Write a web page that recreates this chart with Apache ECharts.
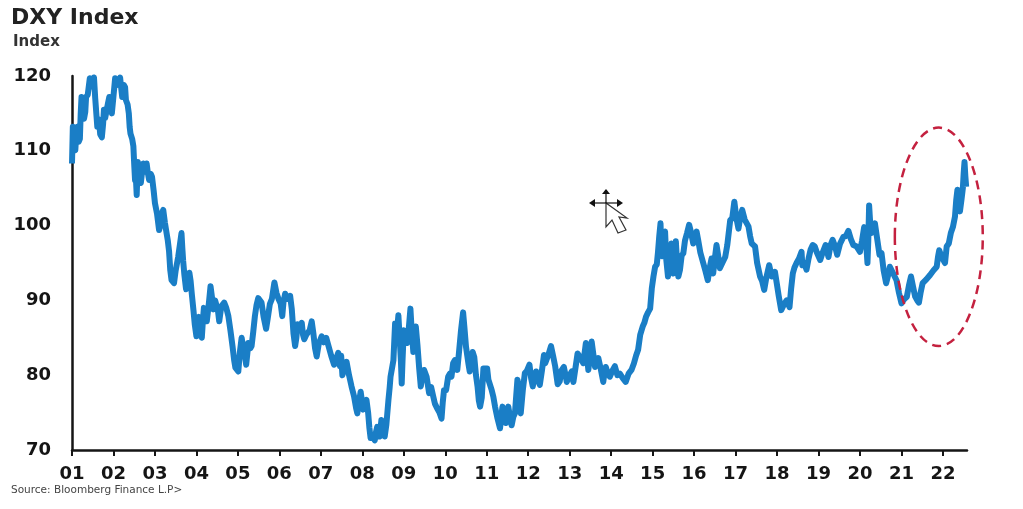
<!DOCTYPE html>
<html>
<head>
<meta charset="utf-8">
<title>DXY Index</title>
<script src="https://cdn.jsdelivr.net/npm/echarts@6/dist/echarts.min.js"></script>
<style>
  html, body { margin: 0; padding: 0; background: #fff; }
  #chart { width: 1023px; height: 509px; }
</style>
</head>
<body>
<div id="chart"></div>
<script>
// years counted from 2000, one line per year
const dates = [
  1.0,1.02,1.05,1.08,1.11,1.13,1.16,1.19,1.21,1.23,1.26,1.29,1.32,1.34,1.38,1.43,1.48,1.53,1.56,1.61,1.65,1.68,1.72,1.75,1.77,1.8,1.84,1.87,1.9,1.93,1.96,
  2.0,2.04,2.09,2.16,2.19,2.21,2.25,2.28,2.3,2.34,2.37,2.39,2.41,2.45,2.48,2.5,2.52,2.54,2.56,2.58,2.59,2.63,2.66,2.69,2.72,2.76,2.8,2.83,2.86,2.9,2.93,2.97,
  3.0,3.05,3.1,3.13,3.16,3.2,3.24,3.28,3.31,3.34,3.37,3.4,3.46,3.5,3.56,3.6,3.64,3.66,3.68,3.71,3.75,3.79,3.83,3.86,3.89,3.93,3.96,
  4.0,4.03,4.06,4.09,4.13,4.16,4.18,4.22,4.25,4.3,4.34,4.38,4.41,4.45,4.49,4.52,4.55,4.6,4.67,4.72,4.77,4.82,4.87,4.91,4.94,
  5.01,5.05,5.09,5.13,5.17,5.2,5.23,5.25,5.3,5.33,5.37,5.41,5.45,5.49,5.53,5.57,5.62,5.68,5.72,5.77,5.82,5.88,5.93,5.98,
  6.03,6.07,6.1,6.14,6.2,6.26,6.3,6.34,6.38,6.41,6.44,6.49,6.54,6.57,6.6,6.65,6.68,6.73,6.78,6.82,6.86,6.9,6.95,
  7.02,7.07,7.13,7.18,7.25,7.32,7.37,7.42,7.46,7.49,7.52,7.57,7.62,7.68,7.74,7.8,7.85,7.88,7.92,7.96,
  8.02,8.06,8.1,8.14,8.17,8.2,8.25,8.3,8.33,8.36,8.42,8.46,8.5,8.54,8.58,8.63,8.66,8.68,8.72,8.75,8.79,8.83,8.87,8.9,8.93,8.95,8.97,
  9.0,9.04,9.08,9.12,9.16,9.19,9.23,9.26,9.29,9.33,9.37,9.41,9.45,9.49,9.55,9.61,9.66,9.7,9.75,9.8,9.86,9.91,9.94,9.97,
  10.02,10.07,10.11,10.15,10.19,10.23,10.29,10.33,10.38,10.43,10.46,10.5,10.53,10.56,10.59,10.62,10.66,10.7,10.74,10.78,10.81,10.84,10.88,10.92,
  11.01,11.04,11.08,11.12,11.16,11.2,11.26,11.32,11.35,11.38,11.42,11.46,11.49,11.52,11.56,11.6,11.64,11.68,11.71,11.74,11.77,11.8,11.82,11.87,11.92,11.97,
  12.03,12.07,12.11,12.15,12.19,12.23,12.28,12.33,12.38,12.41,12.44,12.49,12.55,12.6,12.65,12.71,12.76,12.8,12.86,12.9,12.93,
  13.0,13.05,13.09,13.14,13.19,13.25,13.33,13.36,13.39,13.42,13.45,13.49,13.53,13.57,13.61,13.65,13.69,13.75,13.81,13.84,13.87,13.92,13.97,
  14.03,14.09,14.15,14.21,14.28,14.35,14.42,14.49,14.55,14.6,14.65,14.7,14.76,14.8,14.84,14.89,14.94,14.98,
  15.02,15.06,15.1,15.13,15.16,15.19,15.21,15.23,15.27,15.3,15.33,15.37,15.41,15.45,15.5,15.53,15.56,15.59,15.62,15.66,15.7,15.74,15.78,15.83,15.88,15.93,15.98,
  16.02,16.06,16.1,16.15,16.22,16.27,16.33,16.37,16.42,16.46,16.5,16.54,16.58,16.62,16.68,16.75,16.8,16.87,16.92,16.97,
  17.02,17.07,17.11,17.16,17.22,17.31,17.35,17.39,17.43,17.47,17.52,17.59,17.64,17.69,17.74,17.81,17.87,17.95,17.99,
  18.04,18.1,18.16,18.23,18.3,18.34,18.38,18.42,18.47,18.53,18.59,18.61,18.66,18.71,18.76,18.81,18.86,18.91,18.96,
  19.04,19.1,19.17,19.24,19.29,19.34,19.4,19.45,19.52,19.6,19.66,19.72,19.78,19.84,19.92,
  20.0,20.05,20.1,20.14,20.18,20.2,20.22,20.25,20.27,20.32,20.36,20.41,20.47,20.52,20.57,20.63,20.68,20.72,20.8,20.88,20.94,
  21.0,21.07,21.13,21.18,21.23,21.28,21.33,21.38,21.42,21.46,21.51,21.6,21.69,21.77,21.85,21.88,21.91,21.97,
  22.05,22.09,22.14,22.19,22.24,22.29,22.32,22.35,22.38,22.41,22.45,22.48,22.5,22.52,22.54,22.56
];
const dxy = [
  108.3,113.2,110.4,110.1,112.9,113.2,111.2,111.6,115,117.2,116.6,114.3,115.2,117.2,117.5,119.7,118.6,119.8,117,113.2,114.2,112.2,111.8,113.6,115.5,114.4,114.6,116.4,117.2,115.8,115,
  117.3,119.7,118.8,119.8,118.2,117.2,118.8,118.5,116.8,116.2,115,113.2,112.3,111.6,110.6,108.2,106.1,106.4,104.1,107.4,108.5,106.6,105.7,107.2,108.3,107.2,108.3,107,106.1,106.9,106.5,104.6,
  103,101.6,99.4,100,101.6,102.1,100.4,99,98,96.6,94,92.7,92.3,94,95.8,97.4,99,97,95.3,93.4,91.5,92.4,93.7,92.6,90.8,88.6,86.8,
  85.2,86.6,87.8,86.2,85,87.6,89,88.2,87.2,89.6,91.9,90.2,88.8,90,89.9,88.6,87.2,89.2,89.7,89,87.9,86,83.9,82,81,
  80.5,83.2,85,83.6,82.6,81.4,83,84.3,83.6,83.9,85.8,87.9,89.4,90.3,90.4,89.7,87.8,86.2,87.6,89.5,90.2,92.4,91,90.2,
  89.6,87.9,89.8,90.9,90.2,90.6,88.8,85.6,83.9,85,86.8,86.2,87,85.4,84.8,85.4,85.2,86,87.2,85.6,83.6,82.5,84.2,
  85.2,84.4,85,84,82.6,81.4,82.2,83,81.2,82.6,80,81,81.8,80,78.5,77.2,75.6,74.9,76.4,77.8,
  75.4,76.4,76.7,75,73,71.6,71.8,71.3,72.4,73.1,71.8,74,73,71.8,73.4,76.7,78.4,79.8,80,82,86.9,85.5,88,85,82,78.9,82,
  86,85,84.3,86.2,88.9,86,83.1,85,86.5,84,81,78.5,80,80.7,79.8,77.6,78.4,77.4,76.2,75.6,75,74.2,76.4,78,
  78,79.8,80.2,79.8,81.6,82,80.7,83,86,88.4,86.5,83.8,83.6,81.5,80.5,82,83.1,82.4,80,78.4,76.6,75.8,77,80.9,
  80.9,79.4,79.6,78,77.1,75.8,74.2,72.9,74.4,75.8,74.6,73.6,74.8,75.8,74.4,73.3,74.4,74.9,77.2,79.4,78.6,75.4,74.9,78,80.3,80.6,
  81.4,79.6,78.5,79.8,80.5,79.4,78.7,80.6,82.7,81.6,81.4,82.8,83.9,82.6,81.2,78.8,79.2,80.6,81.1,80,79.1,
  80,80.5,79.1,81,82.9,82.4,81.6,83,84.3,82.4,80.7,82.6,84.5,82.8,81.1,81.6,82.3,80.8,79.1,80.4,81.1,80.2,79.8,
  80.6,81.2,80,80.2,79.6,79.1,80.2,80.7,81.6,82.6,83.4,85.4,86.5,87,87.8,88.4,88.9,91.6,
  93.2,94.5,94.8,96.5,98.6,100.3,97,95.9,98,99.2,95.4,93.2,96,97.6,93.6,96,97.9,95,93.2,94.1,96,96.3,98,99,100.1,99,97.6,
  98.4,99.2,98,96.4,95,94,92.7,94.2,95.6,93.6,95.6,97.4,96,94.3,95,95.8,97.4,100.7,101,103.2,
  101,99.6,101,102.1,100.8,99.9,98.6,97.6,97.6,97.2,95,93.2,92.6,91.4,93,94.7,93.2,93.8,92.4,
  90.6,88.7,89.4,90,89.1,91.6,93.6,94.4,95,95.6,96.5,94.7,95,94.1,95.6,96.8,97.4,97.2,96.4,
  95.4,96.4,97.4,95.8,97.4,98.1,97.2,96.1,97.6,98.5,98.6,99.3,98.2,97.4,97.2,
  96.5,98,99.8,98.4,95,98,102.7,100,99,100,100.3,98.4,96.1,96.3,94,92.3,93.4,94.5,93.6,92.7,91,
  89.6,90.2,90.5,92,93.2,91.8,90.5,90,89.7,91,92.3,92.8,93.4,94,94.5,95.8,96.7,95.8,
  95,97.2,97.6,99,99.8,101.2,103.4,104.8,103,101.9,103.6,105,107,108.5,106.6,105.2
];
const yTicks = [70, 80, 90, 100, 110, 120];
const xTicks = [1,2,3,4,5,6,7,8,9,10,11,12,13,14,15,16,17,18,19,20,21,22];
// dashed circle round the latest move: centre year/value, half width in years, half height in points
const ringCentre = [21.9, 98.5];
const ringHalfSize = [1.06, 14.6];

const ink = '#151515';
const chart = echarts.init(document.getElementById('chart'));

chart.setOption({
  animation: false,
  backgroundColor: '#ffffff',
  title: [
    { text: 'DXY Index', left: 11, top: 7, padding: 0, textStyle: { fontFamily: 'DejaVu Sans', fontSize: 22, fontWeight: 'bold', color: '#222' } },
    { text: 'Index', left: 13, top: 35, padding: 0, textStyle: { fontFamily: 'DejaVu Sans', fontSize: 15, fontWeight: 'bold', color: '#333' } },
    { text: 'Source: Bloomberg Finance L.P>', left: 11, top: 485, padding: 0, textStyle: { fontFamily: 'DejaVu Sans', fontSize: 10.5, fontWeight: 'normal', color: '#444' } }
  ],
  grid: { left: 72, right: 56, top: 76, bottom: 59 },
  xAxis: {
    type: 'value',
    min: 1,
    max: 22.58,
    splitLine: { show: false },
    axisLine: { lineStyle: { color: ink, width: 2.5 } },
    axisTick: { show: true, inside: false, length: 6, customValues: xTicks, lineStyle: { color: ink, width: 2 } },
    axisLabel: {
      customValues: xTicks,
      margin: 15,
      fontFamily: 'DejaVu Sans',
      fontSize: 18,
      fontWeight: 'bold',
      color: ink,
      formatter: function (v) { return String(v).padStart(2, '0'); }
    }
  },
  yAxis: {
    type: 'value',
    min: yTicks[0],
    max: yTicks[yTicks.length - 1],
    interval: 10,
    splitLine: { show: false },
    axisLine: { show: true, lineStyle: { color: ink, width: 2.5 } },
    axisTick: { show: false },
    axisLabel: {
      margin: 21,
      fontFamily: 'DejaVu Sans',
      fontSize: 18,
      fontWeight: 'bold',
      color: ink
    }
  },
  series: [
    {
      type: 'line',
      data: dates.map(function (d, i) { return [d, dxy[i]]; }),
      showSymbol: false,
      lineStyle: { color: '#1a7ec6', width: 6, join: 'round' },
      silent: true
    },
    {
      type: 'custom',
      data: [ringCentre],
      clip: false,
      silent: true,
      z: 5,
      renderItem: function (params, api) {
        const c = api.coord([api.value(0), api.value(1)]);
        const s = api.size(ringHalfSize);
        return {
          type: 'ellipse',
          shape: { cx: c[0], cy: c[1], rx: s[0], ry: s[1] },
          style: { fill: 'none', stroke: '#c4213f', lineWidth: 2.5, lineDash: [9, 6] }
        };
      }
    }
  ],
  // stray mouse cursor captured in the screenshot
  graphic: [
    { type: 'polygon', shape: { points: [[606, 203], [606, 227], [612, 220], [618, 233], [626, 230], [619, 217], [627, 218]] },
      style: { fill: '#fff', stroke: '#333', lineWidth: 1.2 } },
    { type: 'line', shape: { x1: 591, y1: 203, x2: 621, y2: 203 }, style: { stroke: '#111', lineWidth: 1.2 } },
    { type: 'line', shape: { x1: 606, y1: 190, x2: 606, y2: 203 }, style: { stroke: '#111', lineWidth: 1.2 } },
    { type: 'polygon', shape: { points: [[589, 203], [595, 199], [595, 207]] }, style: { fill: '#111' } },
    { type: 'polygon', shape: { points: [[623, 203], [617, 199], [617, 207]] }, style: { fill: '#111' } },
    { type: 'polygon', shape: { points: [[606, 189], [602, 194], [610, 194]] }, style: { fill: '#111' } }
  ]
});
</script>
</body>
</html>
